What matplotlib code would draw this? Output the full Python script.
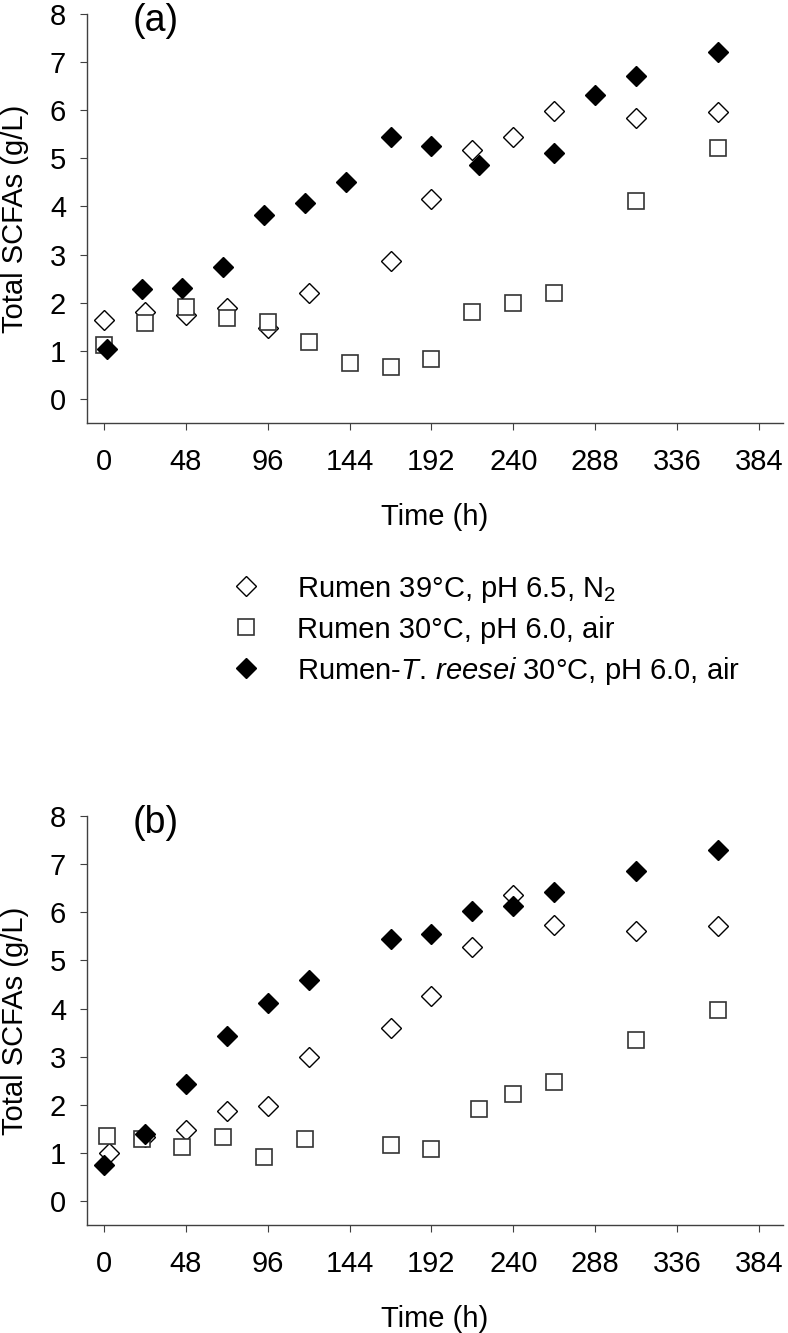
import matplotlib
matplotlib.use("Agg")
import matplotlib.pyplot as plt
from matplotlib.lines import Line2D

plt.rcParams['font.family'] = ['Liberation Sans', 'DejaVu Sans']
plt.rcParams['mathtext.fontset'] = 'custom'
plt.rcParams['mathtext.rm'] = 'Liberation Sans'
plt.rcParams['mathtext.it'] = 'Liberation Sans:italic'

#========= Data ===========
# panel (a)
t_a_n2 = [0, 24, 48, 72, 96, 120, 168, 192, 216, 240, 264, 312, 360]
a_n2 = [1.64, 1.81, 1.75, 1.89, 1.47, 2.21, 2.86, 4.15, 5.18, 5.45, 5.99, 5.83, 5.97]

t_a_air = [0, 24, 48, 72, 96, 120, 144, 168, 192, 216, 240, 264, 312, 360]
a_air = [1.12, 1.57, 1.92, 1.68, 1.59, 1.19, 0.74, 0.66, 0.83, 1.80, 2.00, 2.20, 4.12, 5.21]

t_a_tr = [2, 22, 46, 70, 94, 118, 142, 168, 192, 220, 264, 288, 312, 360]
a_tr = [1.03, 2.29, 2.30, 2.75, 3.83, 4.07, 4.50, 5.44, 5.25, 4.87, 5.11, 6.32, 6.72, 7.20]

# panel (b)
t_b_n2 = [3, 24, 48, 72, 96, 120, 168, 192, 216, 240, 264, 312, 360]
b_n2 = [1.00, 1.32, 1.47, 1.87, 1.98, 2.99, 3.59, 4.26, 5.27, 6.36, 5.74, 5.62, 5.72]

t_b_air = [2, 22, 46, 70, 94, 118, 168, 192, 220, 240, 264, 312, 360]
b_air = [1.35, 1.28, 1.12, 1.33, 0.91, 1.28, 1.17, 1.07, 1.92, 2.22, 2.47, 3.35, 3.97]

t_b_tr = [0, 24, 48, 72, 96, 120, 168, 192, 216, 240, 264, 312, 360]
b_tr = [0.74, 1.39, 2.44, 3.43, 4.12, 4.59, 5.44, 5.54, 6.03, 6.14, 6.43, 6.86, 7.30]

labels = ['Rumen 39\u00b0C, pH 6.5, N$_2$',
          'Rumen 30\u00b0C, pH 6.0, air',
          'Rumen-$\\it{T.\\,reesei}$ 30\u00b0C, pH 6.0, air']
xticks = [0, 48, 96, 144, 192, 240, 288, 336, 384]
yticks = [0, 1, 2, 3, 4, 5, 6, 7, 8]

spine_col = '#404040'
fs = 21

def panel(ax, tag, n2, air, tr):
    ax.plot(n2[0], n2[1], 'D', ms=10.5, mfc='white', mec='black', mew=1.0, ls='none', clip_on=False)
    ax.plot(air[0], air[1], 's', ms=11, mfc='white', mec='#333333', mew=1.2, ls='none', clip_on=False)
    ax.plot(tr[0], tr[1], 'D', ms=10.5, mfc='black', mec='black', mew=1.0, ls='none', clip_on=False)
    ax.set_xlim(-10, 398)
    ax.set_ylim(-0.5, 8)
    ax.set_xticks(xticks)
    ax.set_yticks(yticks)
    ax.spines['top'].set_visible(False)
    ax.spines['right'].set_visible(False)
    ax.spines['left'].set_bounds(-0.5, 8)
    for s in ['left', 'bottom']:
        ax.spines[s].set_color(spine_col)
        ax.spines[s].set_linewidth(1.0)
    ax.tick_params(axis='both', direction='out', length=5, width=0.8, color=spine_col, labelsize=fs)
    ax.tick_params(axis='x', pad=13)
    ax.tick_params(axis='y', pad=10)
    ax.set_xlabel('Time (h)', fontsize=fs)
    ax.set_ylabel('Total SCFAs (g/L)', fontsize=fs)
    ax.xaxis.set_label_coords(0.5, -0.196)
    ax.yaxis.set_label_coords(-0.083, 0.5)
    ax.text(0.065, 0.982, tag, transform=ax.transAxes, fontsize=27, ha='left', va='center')

fig = plt.figure(figsize=(7.88, 13.33), dpi=100)
ax1 = fig.add_axes([0.1104, 0.6827, 0.883, 0.3068])
ax2 = fig.add_axes([0.1104, 0.0810, 0.883, 0.3068])

panel(ax1, '(a)', (t_a_n2, a_n2), (t_a_air, a_air), (t_a_tr, a_tr))
panel(ax2, '(b)', (t_b_n2, b_n2), (t_b_air, b_air), (t_b_tr, b_tr))

handles = [Line2D([], [], marker='D', ms=10.5, mfc='white', mec='black', mew=1.0, ls='none'),
           Line2D([], [], marker='s', ms=11, mfc='white', mec='#333333', mew=1.2, ls='none'),
           Line2D([], [], marker='D', ms=10.5, mfc='black', mec='black', mew=1.0, ls='none')]
fig.legend(handles, labels, loc='upper left', bbox_to_anchor=(0.284, 0.569),
           frameon=False, fontsize=fs, handletextpad=1.0, labelspacing=0.38,
           handlelength=1.5, borderpad=0, borderaxespad=0)

fig.savefig('out.png', dpi=100)
